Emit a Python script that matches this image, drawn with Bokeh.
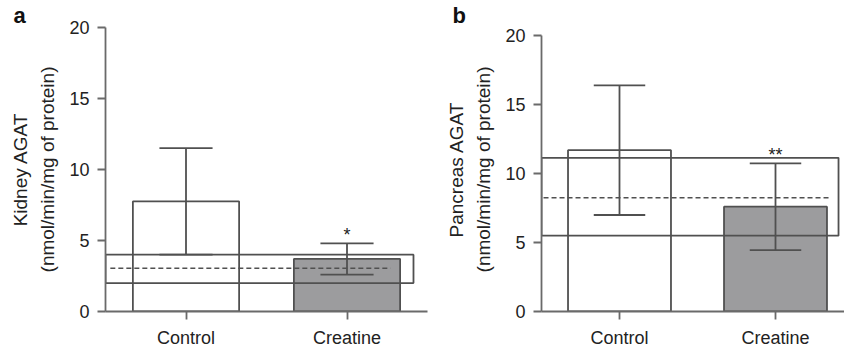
from bokeh.plotting import figure
from bokeh.layouts import row
from bokeh.models import Range1d, FixedTicker
from bokeh.core.properties import value
from bokeh.embed import file_html
from bokeh.resources import INLINE

# ---------------- data ----------------
categories = ["Control", "Creatine"]
y_ticks = [0, 5, 10, 15, 20]

kidney_mean = [7.75, 3.7]
kidney_sd = [3.75, 1.1]
kidney_ref = [2.0, 3.05, 4.0]        # low, mid (dashed), high
kidney_sig = ["", "*"]

pancreas_mean = [11.7, 7.6]
pancreas_sd = [4.7, 3.15]
pancreas_ref = [5.5, 8.25, 11.15]
pancreas_sig = ["", "**"]

FONT = "Liberation Sans"
LINE = "#505050"
AXIS = "#6a6a6a"
TEXT = "#222222"
BAR_FILL = ["white", "#9c9c9e"]


def make_panel(letter, letter_offset, ylabel, mean, sd, ref, sig, width, b_left, b_right,
               x_end, y_end, band_right, dash_start, dash_end):
    xs = list(range(len(categories)))
    p = figure(width=width, height=350, output_backend="svg", toolbar_location=None,
               x_range=Range1d(-0.5, x_end), y_range=Range1d(0, y_end),
               min_border_left=b_left, min_border_right=b_right,
               min_border_top=25, min_border_bottom=0,
               background_fill_color="white", border_fill_color="white")
    p.outline_line_color = None
    p.xgrid.visible = False
    p.ygrid.visible = False

    # bars
    p.vbar(x=xs, top=mean, bottom=0, width=0.66, fill_color=BAR_FILL,
           line_color=LINE, line_width=1.8)

    # reference band and dashed mean
    p.quad(left=[-0.5], right=[band_right], bottom=[ref[0]], top=[ref[2]],
           fill_color=None, line_color=LINE, line_width=1.8)
    p.segment(x0=[dash_start], x1=[dash_end], y0=[ref[1]], y1=[ref[1]],
              line_color=LINE, line_width=1.6, line_dash="5 3")

    # error bars
    lo = [m - s for m, s in zip(mean, sd)]
    hi = [m + s for m, s in zip(mean, sd)]
    p.segment(x0=xs, x1=xs, y0=lo, y1=hi, line_color=LINE, line_width=1.8)
    cap = 0.165
    p.segment(x0=[x - cap for x in xs], x1=[x + cap for x in xs], y0=hi, y1=hi,
              line_color=LINE, line_width=1.8)
    p.segment(x0=[x - cap for x in xs], x1=[x + cap for x in xs], y0=lo, y1=lo,
              line_color=LINE, line_width=1.8)

    # significance marks
    p.text(x=xs, y=hi, text=sig, text_align="center", text_baseline="alphabetic",
           y_offset=-8, text_font=value(FONT), text_font_size="18px", text_color=TEXT)

    # axes
    p.xaxis.ticker = FixedTicker(ticks=xs)
    p.xaxis.major_label_overrides = {i: c for i, c in zip(xs, categories)}
    p.xaxis.axis_label = None
    p.yaxis.ticker = FixedTicker(ticks=y_ticks)
    p.yaxis.bounds = (0, 20)
    for ax in (p.xaxis[0], p.yaxis[0]):
        ax.axis_line_color = AXIS
        ax.axis_line_width = 1.8
        ax.major_tick_line_color = AXIS
        ax.major_tick_line_width = 1.8
        ax.major_tick_out = 8
        ax.major_tick_in = 0
        ax.minor_tick_line_color = None
        ax.major_label_text_font = FONT
        ax.major_label_text_font_size = "18px"
        ax.major_label_text_color = TEXT
    p.xaxis.major_label_standoff = 8
    p.yaxis.major_label_standoff = 8
    p.yaxis.axis_label = ylabel
    p.yaxis.axis_label_text_font = FONT
    p.yaxis.axis_label_text_font_size = "19px"
    p.yaxis.axis_label_text_font_style = "normal"
    p.yaxis.axis_label_text_color = TEXT
    p.yaxis.axis_label_standoff = 8
    p.yaxis.axis_label_text_line_height = 1.3

    # panel letter
    p.title.text = letter
    p.title.align = "left"
    p.title.offset = letter_offset
    p.title.standoff = 0
    p.title.text_font = FONT
    p.title.text_font_size = "22px"
    p.title.text_font_style = "bold"
    p.title.text_color = "#111111"
    return p


pa = make_panel("a", -92, "Kidney AGAT\n(nmol/min/mg of protein)", kidney_mean, kidney_sd,
                kidney_ref, kidney_sig, width=440, b_left=105, b_right=13,
                x_end=1.5, y_end=20, band_right=1.413, dash_start=-0.47, dash_end=1.27)
pb = make_panel("b", -89, "Pancreas AGAT\n(nmol/min/mg of protein)", pancreas_mean, pancreas_sd,
                pancreas_ref, pancreas_sig, width=404, b_left=101, b_right=0,
                x_end=-0.5 + 303 / 156, y_end=20.6, band_right=1.404,
                dash_start=-0.487, dash_end=1.35)

layout = row(pa, pb)
open("out.html", "w").write(file_html(layout, INLINE))
